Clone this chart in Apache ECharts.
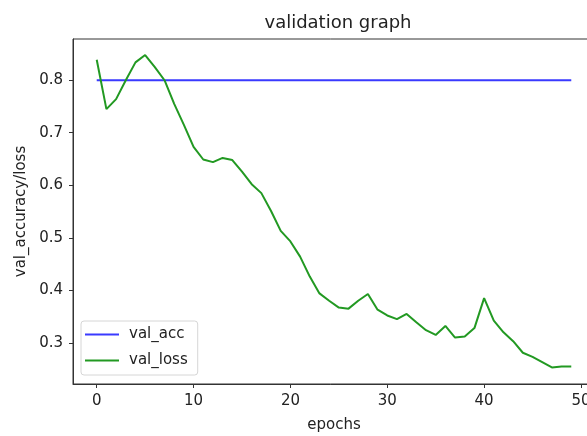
<!DOCTYPE html>
<html>
<head>
<meta charset="utf-8">
<script src="https://cdn.jsdelivr.net/npm/echarts@6/dist/echarts.min.js"></script>
<style>
  html, body { margin: 0; padding: 0; background: #fff; }
  #chart { width: 587px; height: 436px; }
</style>
</head>
<body>
<div id="chart"></div>
<script>
// data
const epochs = [];
for (let i = 0; i < 50; i++) epochs.push(i);

const valAcc = [
  0.8, 0.8, 0.8, 0.8, 0.8, 0.8, 0.8, 0.8, 0.8, 0.8,
  0.8, 0.8, 0.8, 0.8, 0.8, 0.8, 0.8, 0.8, 0.8, 0.8,
  0.8, 0.8, 0.8, 0.8, 0.8, 0.8, 0.8, 0.8, 0.8, 0.8,
  0.8, 0.8, 0.8, 0.8, 0.8, 0.8, 0.8, 0.8, 0.8, 0.8,
  0.8, 0.8, 0.8, 0.8, 0.8, 0.8, 0.8, 0.8, 0.8, 0.8
];

const valLoss = [
  0.839, 0.745, 0.764, 0.800, 0.834, 0.848, 0.825, 0.800, 0.755, 0.715,
  0.673, 0.649, 0.644, 0.652, 0.648, 0.626, 0.602, 0.585, 0.551, 0.513,
  0.493, 0.464, 0.426, 0.394, 0.380, 0.367, 0.365, 0.380, 0.393, 0.363,
  0.352, 0.345, 0.355, 0.339, 0.324, 0.315, 0.332, 0.310, 0.312, 0.328,
  0.385, 0.342, 0.320, 0.303, 0.281, 0.273, 0.263, 0.253, 0.255, 0.255
];

const xTicks = [0, 10, 20, 30, 40, 50];
const yTicks = [0.3, 0.4, 0.5, 0.6, 0.7, 0.8];

const font = 'DejaVu Sans';
const textColor = '#222';

let pairs = (ys) => epochs.map((x, i) => [x, ys[i]]);

let myChart = echarts.init(document.getElementById('chart'), null, { renderer: 'canvas' });

let option = {
    animation: false,
    backgroundColor: '#fff',
    title: {
        text: 'validation graph',
        left: 333,
        textAlign: 'center',
        top: 9,
        textStyle: { fontFamily: font, fontSize: 18, fontWeight: 'normal', color: textColor }
    },
    legend: {
        left: 81,
        top: 321,
        orient: 'vertical',
        padding: [6, 10, 7, 4],
        icon: 'rect',
        itemWidth: 34,
        itemHeight: 2,
        itemGap: 11,
        borderColor: '#d6d6d6',
        borderWidth: 1,
        borderRadius: 3,
        backgroundColor: 'rgba(255,255,255,0.8)',
        textStyle: { fontFamily: font, fontSize: 15, color: textColor, padding: [0, 0, 0, 5] },
        data: ['val_acc', 'val_loss']
    },
    grid: {
        left: 73,
        top: 39,
        width: 522,
        height: 345,
        show: true,
        borderColor: '#333',
        borderWidth: 1,
        containLabel: false,
        outerBoundsMode: 'none'
    },
    xAxis: {
        type: 'value',
        min: -2.45,
        max: 51.45,
        name: 'epochs',
        nameLocation: 'middle',
        nameGap: 34,
        nameTextStyle: { fontFamily: font, fontSize: 15, color: textColor },
        axisLine: { show: true, onZero: false, lineStyle: { color: '#333', width: 1 } },
        axisTick: { show: true, length: 4, lineStyle: { color: '#333' }, customValues: xTicks },
        axisLabel: {
            fontFamily: font, fontSize: 15, color: textColor, margin: 10,
            customValues: xTicks,
            formatter: v => String(v)
        },
        splitLine: { show: false }
    },
    yAxis: {
        type: 'value',
        min: 0.2215,
        max: 0.8785,
        name: 'val_accuracy/loss',
        nameLocation: 'middle',
        nameGap: 37,
        nameTextStyle: { fontFamily: font, fontSize: 15, color: textColor },
        axisLine: { show: true, onZero: false, lineStyle: { color: '#333', width: 1 } },
        axisTick: { show: true, length: 4, lineStyle: { color: '#333' }, customValues: yTicks },
        axisLabel: {
            fontFamily: font, fontSize: 15, color: textColor, margin: 10,
            customValues: yTicks,
            formatter: v => v.toFixed(1)
        },
        splitLine: { show: false }
    },
    series: [
        {
            name: 'val_acc',
            type: 'line',
            data: pairs(valAcc),
            symbol: 'none',
            itemStyle: { color: '#3a3aff' },
            lineStyle: { color: '#3a3aff', width: 2 }
        },
        {
            name: 'val_loss',
            type: 'line',
            data: pairs(valLoss),
            symbol: 'none',
            itemStyle: { color: '#229922' },
            lineStyle: { color: '#229922', width: 2 }
        }
    ]
};

myChart.setOption(option);
</script>
</body>
</html>
